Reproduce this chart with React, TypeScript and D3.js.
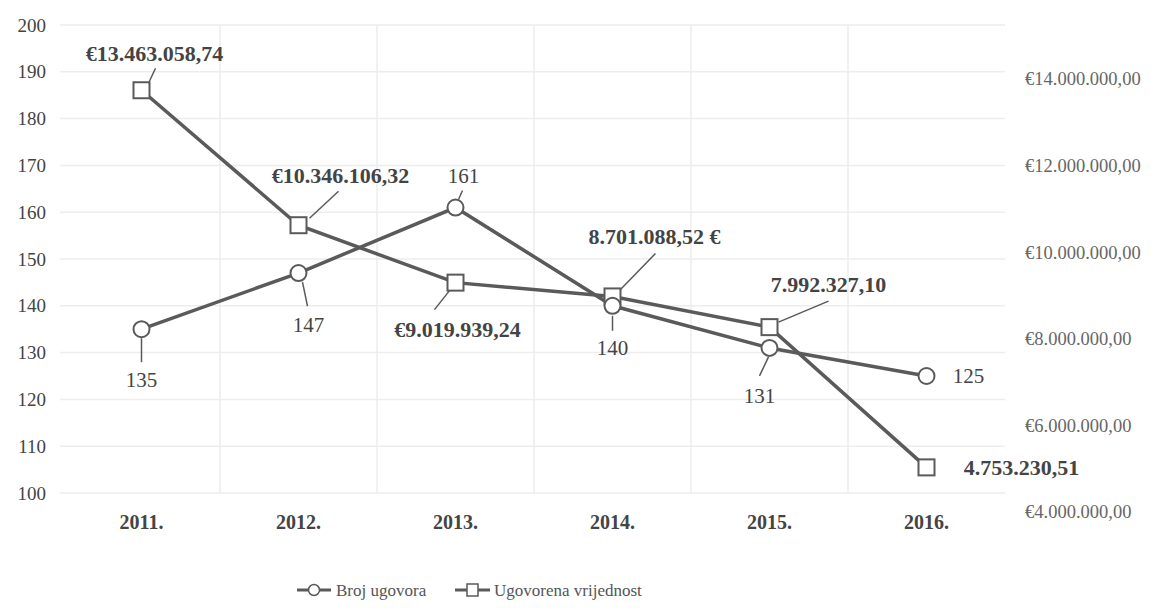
import { useEffect, useRef } from 'react';
import * as d3 from 'd3';

const years = ['2011.', '2012.', '2013.', '2014.', '2015.', '2016.'];
const brojUgovora = [135, 147, 161, 140, 131, 125];
const ugovorenaVrijednost = [13463058.74, 10346106.32, 9019939.24, 8701088.52, 7992327.1, 4753230.51];
const vrijednostLabels = ['€13.463.058,74', '€10.346.106,32', '€9.019.939,24', '8.701.088,52 €', '7.992.327,10', '4.753.230,51'];
const leftTicks = [100, 110, 120, 130, 140, 150, 160, 170, 180, 190, 200];
const rightTicks = [4000000, 6000000, 8000000, 10000000, 12000000, 14000000];
const rightTickLabels = ['€4.000.000,00', '€6.000.000,00', '€8.000.000,00', '€10.000.000,00', '€12.000.000,00', '€14.000.000,00'];

// label placement relative to its point: text [dx, dy], leader [x1, y1, x2, y2] or null
type Placement = { dx: number; dy: number; leader: number[] | null };
const brojPlacement: Placement[] = [
  { dx: 0, dy: 50, leader: [0, 9, 0, 33] },
  { dx: 10, dy: 52, leader: [4, 9, 9, 33] },
  { dx: 8, dy: -32, leader: [3, -8, 7, -17] },
  { dx: 0, dy: 42, leader: [0, 10, 0, 25] },
  { dx: -10, dy: 48, leader: [-1, 9, -10, 28] },
  { dx: 42, dy: 0, leader: null },
];
const vrijednostPlacement: Placement[] = [
  { dx: 13, dy: -37, leader: [7, -7, 14, -22] },
  { dx: 42, dy: -50, leader: [11, -7, 40, -34] },
  { dx: 2, dy: 47, leader: [-6, 8, -21, 27] },
  { dx: 42, dy: -60, leader: [8, -7, 43, -43] },
  { dx: 59, dy: -43, leader: [9, -5, 59, -26] },
  { dx: 95, dy: 0, leader: null },
];

const App = () => {
  const svgRef = useRef<SVGSVGElement | null>(null);

  const width = 1158;
  const height = 608;
  const plotLeft = 63;
  const plotRight = 1005;

  useEffect(() => {
    const svgElement = svgRef.current;
    if (!svgElement) return;
    const svg = d3.select(svgElement);
    svg.selectAll('*').remove();

    const x = d3.scaleBand().domain(years).range([plotLeft, plotRight]);
    const y = d3.scaleLinear().domain([100, 200]).range([493, 25]);
    const y2 = d3.scaleLinear().domain([4000000, 14000000]).range([500, 67]);
    const cx = (i: number) => (x(years[i]) ?? 0) + x.bandwidth() / 2;

    const grey = '#5a5a5a';
    const font = '"Liberation Serif", "Times New Roman", serif';

    // grid
    const grid = svg.append('g').attr('stroke', '#ededed').attr('stroke-width', 1.5);
    leftTicks.forEach(t => {
      grid.append('line').attr('x1', plotLeft - 3).attr('x2', plotRight).attr('y1', y(t)).attr('y2', y(t));
    });
    years.forEach((yr, i) => {
      const bx = x(yr) ?? 0;
      if (i > 0) grid.append('line').attr('x1', bx).attr('x2', bx).attr('y1', y(200)).attr('y2', y(100));
    });

    // left axis labels
    svg.append('g').selectAll('text').data(leftTicks).join('text')
      .attr('x', 46).attr('y', d => y(d)).attr('dy', '0.35em')
      .attr('text-anchor', 'end').attr('font-family', font).attr('font-size', 19)
      .attr('fill', '#444').text(d => d);

    // right axis labels
    svg.append('g').selectAll('text').data(rightTicks).join('text')
      .attr('x', 1025).attr('y', d => y2(d) + 12).attr('dy', '0.35em')
      .attr('font-family', font).attr('font-size', 18.5)
      .attr('fill', '#666').text((d, i) => rightTickLabels[i]);

    // x labels
    svg.append('g').selectAll('text').data(years).join('text')
      .attr('x', (d, i) => cx(i)).attr('y', 522).attr('dy', '0.35em')
      .attr('text-anchor', 'middle').attr('font-family', font).attr('font-size', 20)
      .attr('font-weight', 'bold').attr('fill', '#444').text(d => d);

    // lines
    const lineBroj = d3.line<number>().x((d, i) => cx(i)).y(d => y(d));
    const lineVrij = d3.line<number>().x((d, i) => cx(i)).y(d => y2(d));

    svg.append('path').datum(ugovorenaVrijednost)
      .attr('fill', 'none').attr('stroke', grey).attr('stroke-width', 3.5).attr('d', lineVrij);
    svg.append('path').datum(brojUgovora)
      .attr('fill', 'none').attr('stroke', grey).attr('stroke-width', 3.5).attr('d', lineBroj);

    // markers
    svg.append('g').selectAll('rect').data(ugovorenaVrijednost).join('rect')
      .attr('x', (d, i) => cx(i) - 8).attr('y', d => y2(d) - 8)
      .attr('width', 16).attr('height', 16)
      .attr('fill', 'white').attr('stroke', grey).attr('stroke-width', 2);
    svg.append('g').selectAll('circle').data(brojUgovora).join('circle')
      .attr('cx', (d, i) => cx(i)).attr('cy', d => y(d)).attr('r', 8)
      .attr('fill', 'white').attr('stroke', grey).attr('stroke-width', 2);

    // data labels
    const labels = svg.append('g');
    const drawLabel = (px: number, py: number, p: Placement, text: string, bold: boolean) => {
      if (p.leader) {
        const [x1, y1, x2, y2_] = p.leader;
        labels.append('line')
          .attr('x1', px + x1).attr('y1', py + y1).attr('x2', px + x2).attr('y2', py + y2_)
          .attr('stroke', grey).attr('stroke-width', 1.5);
      }
      labels.append('text')
        .attr('x', px + p.dx).attr('y', py + p.dy).attr('dy', '0.35em')
        .attr('text-anchor', 'middle').attr('font-family', font).attr('font-size', bold ? 22 : 21)
        .attr('font-weight', bold ? 'bold' : 'normal').attr('fill', '#444').text(text);
    };
    brojUgovora.forEach((v, i) => drawLabel(cx(i), y(v), brojPlacement[i], String(v), false));
    ugovorenaVrijednost.forEach((v, i) => drawLabel(cx(i), y2(v), vrijednostPlacement[i], vrijednostLabels[i], true));

    // legend
    const legend = svg.append('g').attr('transform', 'translate(297,590)');
    legend.append('line').attr('x1', 0).attr('x2', 34).attr('y1', 0).attr('y2', 0)
      .attr('stroke', grey).attr('stroke-width', 3);
    legend.append('circle').attr('cx', 17).attr('cy', 0).attr('r', 5.5)
      .attr('fill', 'white').attr('stroke', grey).attr('stroke-width', 1.5);
    legend.append('text').attr('x', 39).attr('y', 0).attr('dy', '0.35em')
      .attr('font-family', font).attr('font-size', 17).attr('fill', '#555').text('Broj ugovora');
    legend.append('line').attr('x1', 158).attr('x2', 193).attr('y1', 0).attr('y2', 0)
      .attr('stroke', grey).attr('stroke-width', 3);
    legend.append('rect').attr('x', 170).attr('y', -6).attr('width', 11).attr('height', 12)
      .attr('fill', 'white').attr('stroke', grey).attr('stroke-width', 1.5);
    legend.append('text').attr('x', 197).attr('y', 0).attr('dy', '0.35em')
      .attr('font-family', font).attr('font-size', 17).attr('fill', '#555').text('Ugovorena vrijednost');
  }, []);

  return (
    <svg
      ref={svgRef}
      width={width}
      height={height}
      style={{ position: 'absolute', left: 0, top: 0, background: 'white' }}
    />
  );
};

export default App;
